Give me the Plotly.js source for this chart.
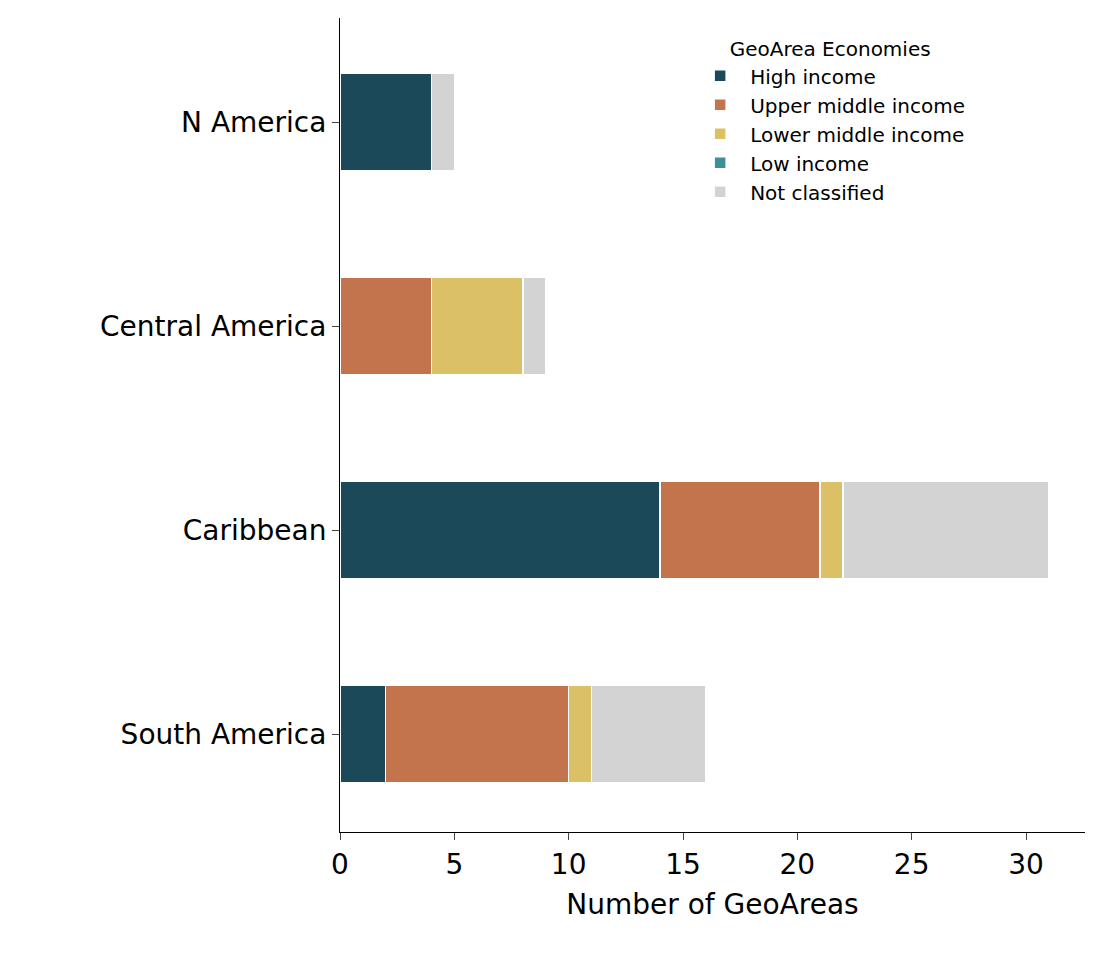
<!DOCTYPE html>
<html>
<head>
<meta charset="utf-8">
<script src="https://cdn.plot.ly/plotly-3.0.1.min.js"></script>
<style>body{margin:0}</style>
</head>
<body>
<div id="chart" style="width:1102px;height:955px"></div>
<script>
const regions = ['South America', 'Caribbean', 'Central America', 'N America'];
const groups = ['High income', 'Upper middle income', 'Lower middle income', 'Low income', 'Not classified'];
const colors = ['#1b4959', '#c4744c', '#dcc066', '#3a9197', '#d3d3d3'];
const highIncome = [2, 14, 0, 4];
const upperMiddle = [8, 7, 4, 0];
const lowerMiddle = [1, 1, 4, 0];
const lowIncome = [0, 0, 0, 0];
const notClassified = [5, 9, 1, 1];
const series = [highIncome, upperMiddle, lowerMiddle, lowIncome, notClassified];

const traces = series.map((vals, i) => ({
  type: 'bar',
  orientation: 'h',
  name: groups[i],
  y: regions,
  x: vals,
  width: 0.48,
  marker: {color: colors[i], line: {color: 'white', width: 1.5}},
}));

Plotly.newPlot('chart', traces, {
  barmode: 'stack',
  width: 1102,
  height: 955,
  margin: {l: 340, r: 17, t: 18, b: 123},
  paper_bgcolor: 'white',
  plot_bgcolor: 'white',
  font: {family: 'DejaVu Sans', color: 'black'},
  xaxis: {
    range: [0, 32.58],
    tickvals: [0, 5, 10, 15, 20, 25, 30],
    ticks: 'outside', ticklen: 7, showgrid: false, zeroline: false,
    showline: true, linecolor: 'black',
    tickfont: {size: 28},
    title: {text: 'Number of GeoAreas', font: {size: 28}, standoff: 14},
  },
  yaxis: {
    range: [-0.48, 3.51],
    ticks: 'outside', ticklen: 7, showgrid: false, zeroline: false,
    showline: true, linecolor: 'black',
    tickfont: {size: 28},
  },
  legend: {
    x: 0.47, y: 0.985, xanchor: 'left', yanchor: 'top',
    traceorder: 'normal',
    itemwidth: 50,
    title: {text: 'GeoArea Economies', side: 'top center', font: {size: 20}},
    font: {size: 20},
    bgcolor: 'rgba(0,0,0,0)',
  },
}, {displayModeBar: false});
</script>
</body>
</html>
